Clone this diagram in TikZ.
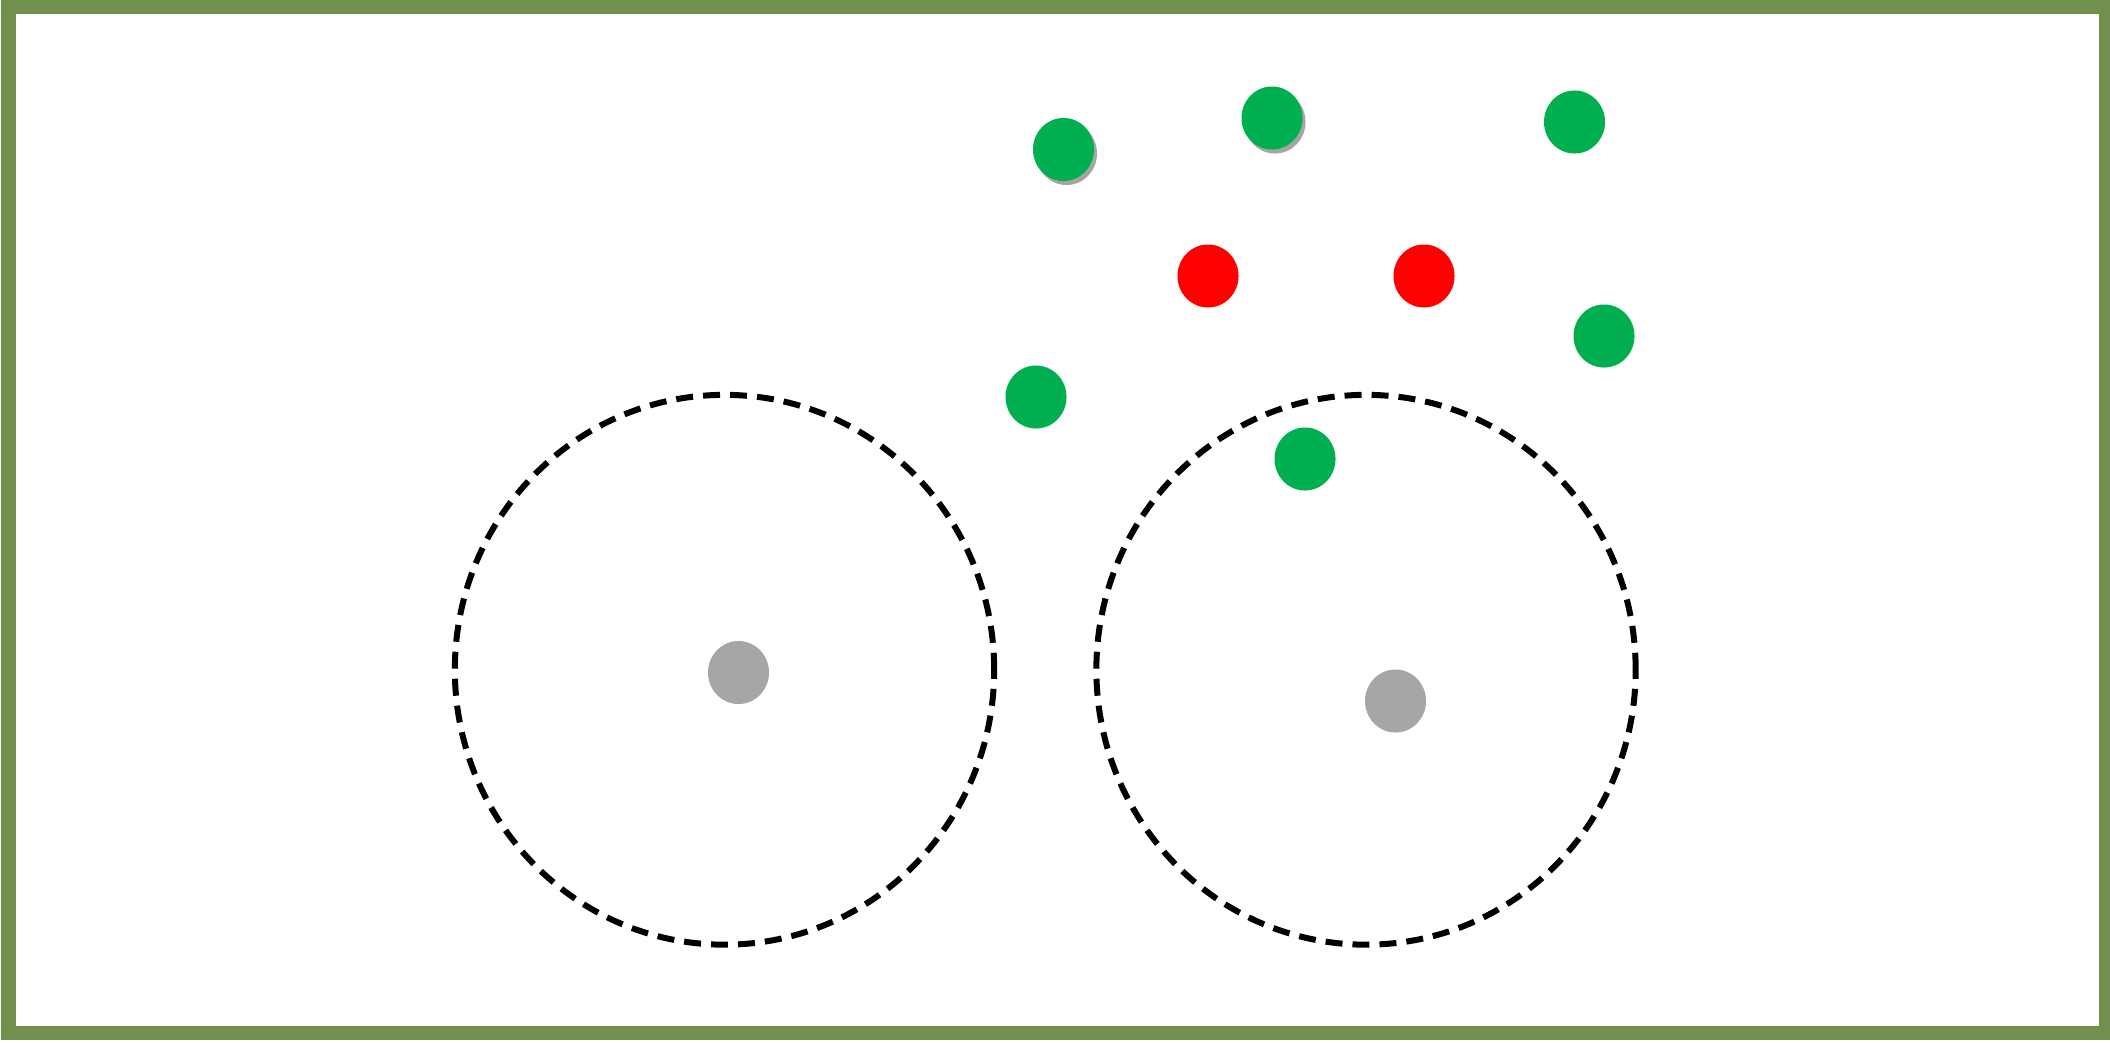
\documentclass[tikz,border=0pt]{standalone}
\usetikzlibrary{shapes.geometric,shadows}
\definecolor{dotgreen}{RGB}{0,176,80}
\definecolor{dotred}{RGB}{255,0,0}
\definecolor{dotgray}{RGB}{166,166,166}
\definecolor{framegreen}{RGB}{114,143,78}
\definecolor{shadowgray}{RGB}{165,165,165}
\tikzset{
  dotbase/.style={ellipse, minimum width=0.61cm, minimum height=0.63cm, inner sep=0pt, draw=none},
  gdot/.style={dotbase, fill=dotgreen},
  gsdot/.style={dotbase, fill=dotgreen, drop shadow={shadow xshift=0.03cm, shadow yshift=-0.04cm, fill=shadowgray, opacity=1}},
  rdot/.style={dotbase, fill=dotred},
  graydot/.style={dotbase, fill=dotgray},
  zone/.style={ellipse, draw=black, line width=0.06cm, dash pattern=on 0.17cm off 0.1cm, minimum width=5.39cm, minimum height=5.495cm, inner sep=0pt},
  frame/.style={draw=framegreen, line width=0.14cm}
}
\begin{document}
\begin{tikzpicture}[x=0.01cm, y=-0.01cm]
\useasboundingbox (0,0) rectangle (2110,1042);
\draw[frame] (8.5,7) rectangle (2105.5,1033);
% dashed zones
\node[zone] (zoneL) at (724.5,669.75) {};
\node[zone] (zoneR) at (1366,669.75) {};
% gray dots
\node[graydot] (p1) at (738.5,672.5) {};
\node[graydot] (p2) at (1395.5,701) {};
% red dots
\node[rdot] (r1) at (1208,276) {};
\node[rdot] (r2) at (1424,276) {};
% green dots
\node[gsdot] (g1) at (1063.5,149.5) {};
\node[gsdot] (g2) at (1272,118) {};
\node[gdot] (g3) at (1574.5,122) {};
\node[gdot] (g4) at (1604,336) {};
\node[gdot] (g5) at (1036,397) {};
\node[gdot] (g6) at (1305,459) {};
\end{tikzpicture}
\end{document}
